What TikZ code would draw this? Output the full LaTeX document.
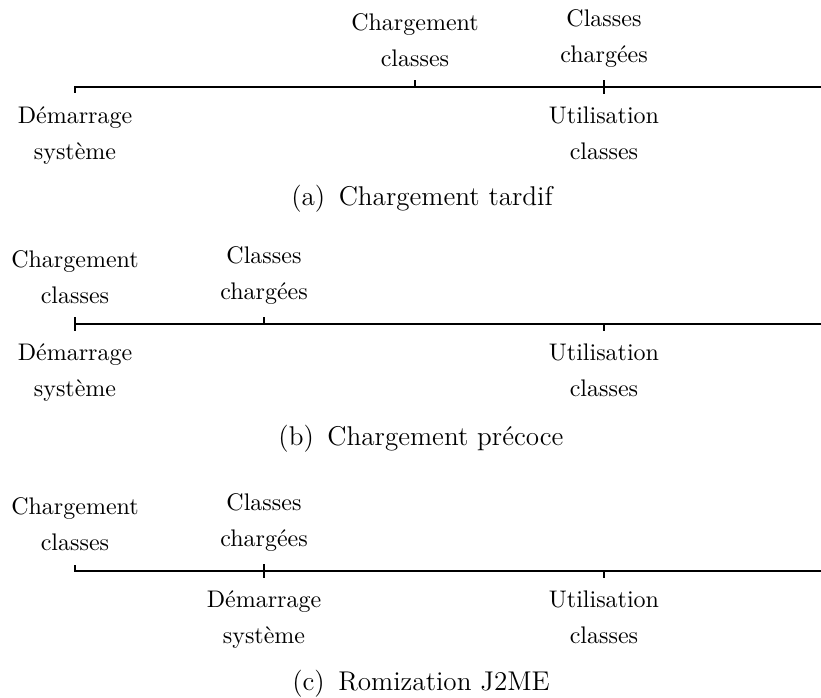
\documentclass[tikz,border=0pt]{standalone}
\begin{document}
\begin{tikzpicture}[x=0.41667pt,y=-0.41667pt,
  lbl/.style={align=center,font=\fontsize{10}{15}\selectfont,inner sep=3.33pt},
  lblup/.style={lbl,anchor=south,yshift=4.8pt},
  lbldn/.style={lbl,anchor=north,yshift=-4.6pt},
  axisline/.style={line width=0.85pt},
  tickline/.style={line width=0.6pt},
  captxt/.style={font=\fontsize{11.3}{13}\selectfont}]
\useasboundingbox (0,0) rectangle (821,698);
% (a)
\coordinate (a0) at (75,87);
\coordinate (a1) at (415,87);
\coordinate (a2) at (604,87);
\coordinate (aE) at (823,87);
\draw[axisline] (a0) -- (aE);
\draw[tickline] ([yshift=0.4pt]a0) -- ++(0,7);
\draw[tickline] (a1) -- ++(0,-7);
\draw[tickline] (a2) ++(0,-7) -- ++(0,14);
\node[lblup] (aL1) at (a1) {Chargement\\classes};
\node[lblup] (aL2) at (a2) {Classes\\chargées};
\node[lbldn] (aD0) at (a0) {Démarrage\\système};
\node[lbldn] (aD2) at (a2) {Utilisation\\classes};
\node[captxt] (capa) at (422,199) {(a)\enspace Chargement tardif};
% (b)
\coordinate (b0) at (75,324);
\coordinate (b1) at (264,324);
\coordinate (b2) at (604,324);
\coordinate (bE) at (823,324);
\draw[axisline] (b0) -- (bE);
\draw[tickline] (b0) ++(0,-7) -- ++(0,14);
\draw[tickline] (b1) -- ++(0,-7);
\draw[tickline] (b2) -- ++(0,7);
\node[lblup] (bL0) at (b0) {Chargement\\classes};
\node[lblup] (bL1) at (b1) {Classes\\chargées};
\node[lbldn] (bD0) at (b0) {Démarrage\\système};
\node[lbldn] (bD2) at (b2) {Utilisation\\classes};
\node[captxt] (capb) at (421,439) {(b)\enspace Chargement précoce};
% (c)
\coordinate (c0) at (75,571);
\coordinate (c1) at (264,571);
\coordinate (c2) at (604,571);
\coordinate (cE) at (823,571);
\draw[axisline] (c0) -- (cE);
\draw[tickline] ([yshift=-0.4pt]c0) -- ++(0,-7);
\draw[tickline] (c1) ++(0,-7) -- ++(0,14);
\draw[tickline] (c2) -- ++(0,7);
\node[lblup] (cL0) at (c0) {Chargement\\classes};
\node[lblup] (cL1) at (c1) {Classes\\chargées};
\node[lbldn] (cD1) at (c1) {Démarrage\\système};
\node[lbldn] (cD2) at (c2) {Utilisation\\classes};
\node[captxt] (capc) at (421,684) {(c)\enspace Romization J2ME};
\end{tikzpicture}
\end{document}
